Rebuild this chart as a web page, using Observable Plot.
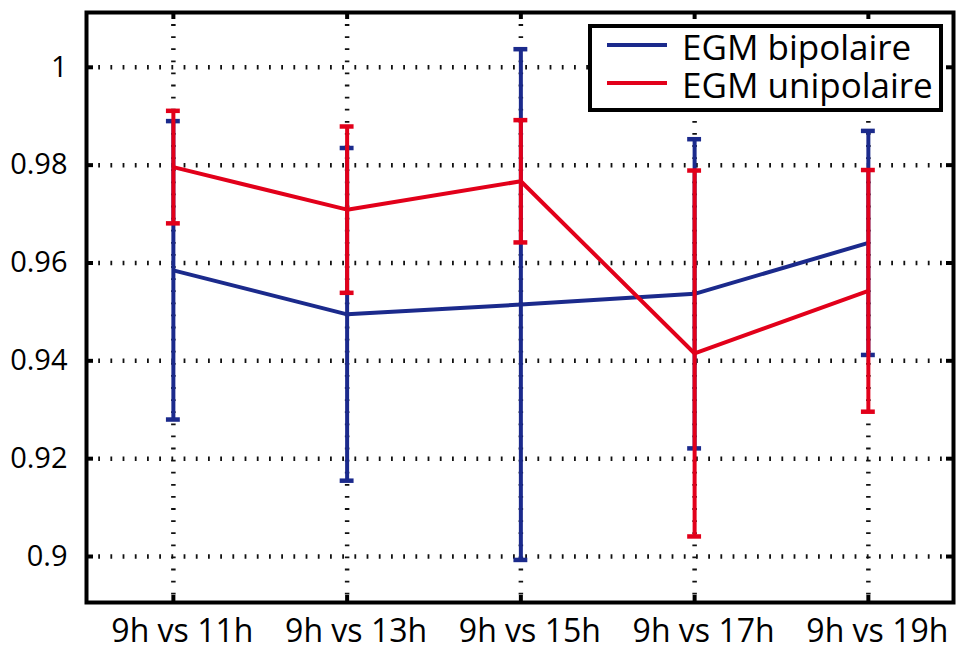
<!DOCTYPE html>
<html><head><meta charset="utf-8">
<script src="https://cdn.jsdelivr.net/npm/d3@7"></script>
<script src="https://cdn.jsdelivr.net/npm/@observablehq/plot@0.6"></script>
<style>
body{margin:0;background:#fff;}
#wrap{position:relative;width:957px;height:652px;font-family:"Open Sans",sans-serif;}
#legend{position:absolute;left:588px;top:24px;width:355px;height:88px;box-sizing:border-box;border:4px solid #000;background:#fff;}
.sw{position:absolute;height:4px;width:60px;}
#lt{position:absolute;left:682px;top:27.5px;font-size:35px;line-height:38px;white-space:nowrap;color:#000;}
</style></head>
<body><div id="wrap"></div>
<script>
const categories = ["9h vs 11h","9h vs 13h","9h vs 15h","9h vs 17h","9h vs 19h"];
const positions = [1,2,3,4,5];
const bipolaireMean = [0.9585,0.9495,0.9515,0.9537,0.9641];
const bipolaireErr  = [0.0305,0.0340,0.0522,0.0316,0.0229];
const unipolaireMean = [0.9796,0.9709,0.9767,0.9415,0.9543];
const unipolaireErr  = [0.0115,0.0170,0.0125,0.0374,0.0247];
const yTicks = [0.9,0.92,0.94,0.96,0.98,1];
const seriesNames = ["EGM bipolaire","EGM unipolaire"];
const seriesColors = ["#1b2a8c","#e2001a"];

const W = 957, H = 652, mL = 86, mR = 4, mT = 12, mB = 50;
const frameW = W - mL - mR, frameH = H - mT - mB;
const cap = 0.04;

function rows(means, errs){
  return positions.map((p,i)=>({x:p, mean:means[i], lo:means[i]-errs[i], hi:means[i]+errs[i]}));
}
const series = [rows(bipolaireMean,bipolaireErr), rows(unipolaireMean,unipolaireErr)];

function seriesMarks(data, color){
  return [
    Plot.line(data,{x:"x",y:"mean",stroke:color,strokeWidth:4,strokeLinejoin:"miter",strokeLinecap:"butt"}),
    Plot.ruleX(data,{x:"x",y1:"lo",y2:"hi",stroke:color,strokeWidth:4}),
    Plot.ruleY(data,{y:"lo",x1:d=>d.x-cap,x2:d=>d.x+cap,stroke:color,strokeWidth:4.5}),
    Plot.ruleY(data,{y:"hi",x1:d=>d.x-cap,x2:d=>d.x+cap,stroke:color,strokeWidth:4.5})
  ];
}

const chart = Plot.plot({
  width:W, height:H,
  marginLeft:mL, marginRight:mR, marginTop:mT, marginBottom:mB,
  style:{fontFamily:'"Open Sans",sans-serif', color:"#000", background:"#fff"},
  x:{domain:[0.5,5.49]},
  y:{domain:[0.8906,1.0112]},
  marks:[
    Plot.ruleY(yTicks,{y:d=>d,stroke:"#111",strokeWidth:4.5,strokeDasharray:"1.8,10.4"}),
    Plot.ruleX(positions,{x:d=>d,stroke:"#111",strokeWidth:4.5,strokeDasharray:"1.8,10.3"}),
    ...seriesMarks(series[0], seriesColors[0]),
    ...seriesMarks(series[1], seriesColors[1]),
    Plot.tickY(yTicks,{y:d=>d,stroke:"#000",strokeWidth:4,insetRight:frameW-7}),
    Plot.tickY(yTicks,{y:d=>d,stroke:"#000",strokeWidth:4,insetLeft:frameW-7}),
    Plot.tickX(positions,{x:d=>d,stroke:"#000",strokeWidth:4,insetTop:frameH-7}),
    Plot.tickX(positions,{x:d=>d,stroke:"#000",strokeWidth:4,insetBottom:frameH-7}),
    Plot.frame({stroke:"#000",strokeWidth:4}),
    Plot.axisY({ticks:yTicks,tickFormat:d=>String(+d.toFixed(2)),tickSize:0,tickPadding:19,fontSize:29,label:null}),
    Plot.axisX({ticks:positions,tickFormat:d=>categories[d-1],tickSize:0,tickPadding:17,dx:9,fontSize:32,label:null})
  ]
});
const wrap = document.getElementById("wrap");
wrap.appendChild(chart);

const legend = document.createElement("div");
legend.id = "legend";
wrap.appendChild(legend);
const lineY = [45,83];
seriesNames.forEach((name,i)=>{
  const sw = document.createElement("div");
  sw.className = "sw";
  sw.style.left = "607px"; sw.style.top = (lineY[i]-2)+"px";
  sw.style.background = seriesColors[i];
  wrap.appendChild(sw);
});
const lt = document.createElement("div");
lt.id = "lt";
seriesNames.forEach((name,i)=>{
  if (i) lt.appendChild(document.createElement("br"));
  lt.appendChild(document.createTextNode(name));
});
wrap.appendChild(lt);
</script>
</body></html>
